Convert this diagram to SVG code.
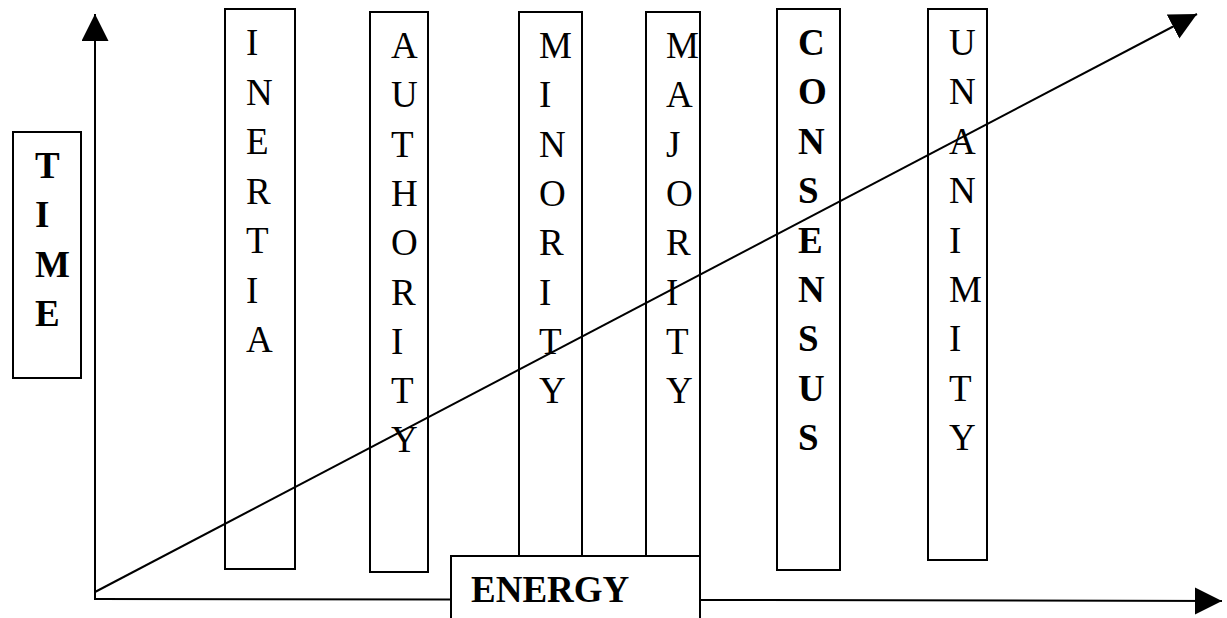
<svg xmlns="http://www.w3.org/2000/svg" width="1227" height="618" viewBox="0 0 1227 618">
<style>
.box{fill:#fff;stroke:#000;stroke-width:2}
.t{font-family:"Liberation Serif","Times New Roman",serif;font-size:37px;fill:#000}
.b{font-weight:bold}
.ln{stroke:#000;stroke-width:2;fill:none}
</style>
<defs>
<marker id="ah" markerUnits="userSpaceOnUse" markerWidth="28" markerHeight="28" refX="27" refY="13.5" orient="auto" viewBox="0 0 28 28">
<path d="M0,0 L27,13.5 L0,27 Z" fill="#000"/>
</marker>
</defs>
<g id="time">
<rect class="box" x="13" y="132" width="68" height="246"/>
<text class="t b" x="35" y="178">T<tspan x="35" dy="49.4">I</tspan><tspan x="35" dy="49.4">M</tspan><tspan x="35" dy="49.4">E</tspan></text>
</g>
<g id="inertia">
<rect class="box" x="225" y="9" width="70" height="560"/>
<text class="t" x="246" y="55">I<tspan x="246" dy="49.5">N</tspan><tspan x="246" dy="49.5">E</tspan><tspan x="246" dy="49.5">R</tspan><tspan x="246" dy="49.5">T</tspan><tspan x="246" dy="49.5">I</tspan><tspan x="246" dy="49.5">A</tspan></text>
</g>
<g id="authority">
<rect class="box" x="370" y="12" width="58" height="560"/>
<text class="t" x="391" y="58">A<tspan x="391" dy="49.3">U</tspan><tspan x="391" dy="49.3">T</tspan><tspan x="391" dy="49.3">H</tspan><tspan x="391" dy="49.3">O</tspan><tspan x="391" dy="49.3">R</tspan><tspan x="391" dy="49.3">I</tspan><tspan x="391" dy="49.3">T</tspan><tspan x="391" dy="49.3">Y</tspan></text>
</g>
<g id="minority">
<rect class="box" x="519" y="12" width="63" height="560"/>
<text class="t" x="539" y="58">M<tspan x="539" dy="49.3">I</tspan><tspan x="539" dy="49.3">N</tspan><tspan x="539" dy="49.3">O</tspan><tspan x="539" dy="49.3">R</tspan><tspan x="539" dy="49.3">I</tspan><tspan x="539" dy="49.3">T</tspan><tspan x="539" dy="49.3">Y</tspan></text>
</g>
<g id="majority">
<rect class="box" x="646" y="12" width="54" height="560"/>
<text class="t" x="666" y="58">M<tspan x="666" dy="49.3">A</tspan><tspan x="666" dy="49.3">J</tspan><tspan x="666" dy="49.3">O</tspan><tspan x="666" dy="49.3">R</tspan><tspan x="666" dy="49.3">I</tspan><tspan x="666" dy="49.3">T</tspan><tspan x="666" dy="49.3">Y</tspan></text>
</g>
<g id="consensus">
<rect class="box" x="777" y="9" width="63" height="561"/>
<text class="t b" x="798" y="55">C<tspan x="798" dy="49.4">O</tspan><tspan x="798" dy="49.4">N</tspan><tspan x="798" dy="49.4">S</tspan><tspan x="798" dy="49.4">E</tspan><tspan x="798" dy="49.4">N</tspan><tspan x="798" dy="49.4">S</tspan><tspan x="798" dy="49.4">U</tspan><tspan x="798" dy="49.4">S</tspan></text>
</g>
<g id="unanimity">
<rect class="box" x="928" y="9" width="59" height="551"/>
<text class="t" x="949" y="55">U<tspan x="949" dy="49.4">N</tspan><tspan x="949" dy="49.4">A</tspan><tspan x="949" dy="49.4">N</tspan><tspan x="949" dy="49.4">I</tspan><tspan x="949" dy="49.4">M</tspan><tspan x="949" dy="49.4">I</tspan><tspan x="949" dy="49.4">T</tspan><tspan x="949" dy="49.4">Y</tspan></text>
</g>
<g id="energy">
<rect class="box" x="451" y="556" width="249" height="80"/>
<text class="t b" x="471" y="602">ENERGY</text>
</g>
<g id="connectors">
<line class="ln" x1="95" y1="600" x2="95" y2="14" marker-end="url(#ah)"/>
<line class="ln" x1="95" y1="599" x2="450" y2="599.6"/>
<line class="ln" x1="701" y1="600" x2="1222" y2="601" marker-end="url(#ah)"/>
<line class="ln" x1="95" y1="592" x2="1197" y2="14" marker-end="url(#ah)"/>
</g>
</svg>
